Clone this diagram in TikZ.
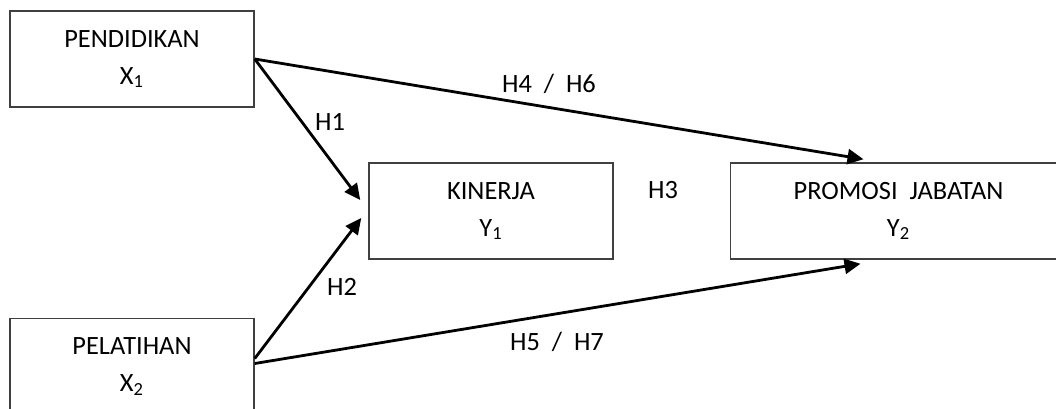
\documentclass[tikz,border=0pt]{standalone}
\usepackage{fontspec}
\setmainfont{Carlito}
\usepackage{tikz}
\usetikzlibrary{positioning, arrows.meta}

\begin{document}
\begin{tikzpicture}[
    x=0.5pt, y=-0.5pt,
    varbox/.style={rectangle, draw=black!75, line width=0.75pt, minimum width=122pt, minimum height=48pt, inner sep=0pt, align=center, font=\fontsize{13.2pt}{18.5pt}\selectfont},
    widebox/.style={varbox, minimum width=168pt},
    hyp/.style={-{Triangle[length=8pt,width=7.5pt]}, line width=1.4pt, black},
    lbl/.style={font=\fontsize{13.2pt}{16pt}\selectfont, inner sep=0pt}
]
\useasboundingbox (0,0) rectangle (1056,408);
\clip (0,0) rectangle (1056,408);

\node[varbox] (pend) at (132,59) {PENDIDIKAN\\X\textsubscript{1}};
\node[varbox, below=105pt of pend] (pela) {PELATIHAN\\X\textsubscript{2}};
\node[varbox] (kin) at (491,211) {KINERJA\\Y\textsubscript{1}};
\node[widebox, right=58pt of kin] (prom) {PROMOSI\ \ JABATAN\\Y\textsubscript{2}};

% arrow ends
\coordinate (kin_a) at ([shift={(-4pt,5.5pt)}]kin.west);
\coordinate (kin_b) at ([shift={(-3.5pt,-3.5pt)}]kin.west);
\coordinate (prom_a) at ([shift={(-17.5pt,1.5pt)}]prom.north);
\coordinate (prom_b) at ([shift={(-19pt,-2pt)}]prom.south);

\draw[hyp] (pend.east) -- (kin_a);
\draw[hyp] (pend.east) -- (prom_a);
\draw[hyp] ([yshift=4pt]pela.east) -- (kin_b);
\draw[hyp] ([yshift=1.5pt]pela.east) -- (prom_b);

\node[lbl] (h1) at (330,122) {H1};
\node[lbl] (h2) at (342,287) {H2};
\node[lbl] (h3) at (663,190) {H3};
\node[lbl] (h46) at (549,84) {H4\ \ /\ \ H6};
\node[lbl] (h57) at (557,342) {H5\ \ /\ \ H7};
\end{tikzpicture}
\end{document}
